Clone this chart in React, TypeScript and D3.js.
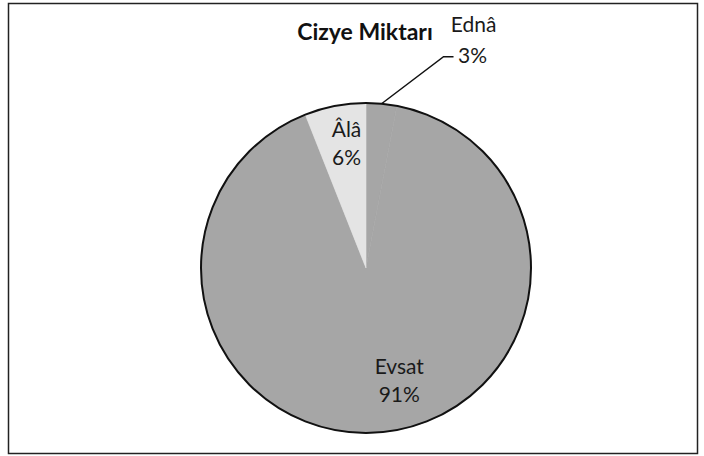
import * as d3 from "d3";

const categories = ["Ednâ", "Evsat", "Âlâ"];
const values = [3, 91, 6];
const percentLabels = ["3%", "91%", "6%"];
const sliceColors = ["#a6a6a6", "#a6a6a6", "#e4e4e4"];
const title = "Cizye Miktarı";

const width = 704;
const height = 456;
const cx = 366;
const cy = 268;
const radius = 165;
const font = "Lato, 'Open Sans', sans-serif";

export default function App() {
  const data = categories.map((name, i) => ({name, value: values[i], label: percentLabels[i], color: sliceColors[i]}));

  const pie = d3.pie<any>()
    .sort(null)
    .value(d => d.value);
  const arcs = pie(data);

  const arc = d3.arc<any>().innerRadius(0).outerRadius(radius);
  const labelArc = d3.arc<any>().innerRadius(120).outerRadius(120);
  const edgeArc = d3.arc<any>().innerRadius(radius).outerRadius(radius);

  // Ednâ is labelled outside the pie with a leader line
  const small = arcs[0];
  const [ex, ey] = edgeArc.centroid(small);
  const elbow: [number, number] = [ex + 62, ey - 47];
  const lineEnd: [number, number] = [elbow[0] + 10, elbow[1]];

  return (
    <svg width={width} height={height} style={{position: "absolute", left: 0, top: 0}}>
      <rect x={8.5} y={3.5} width={689} height={450} fill="#fff" stroke="#222" strokeWidth={1.5}/>
      <text x={365} y={40} textAnchor="middle" fontFamily={font} fontWeight="bold" fontSize={23} fill="#111">
        {title}
      </text>
      <g transform={`translate(${cx},${cy})`}>
        {arcs.map((a, i) => (
          <path key={i} d={arc(a) || ""} fill={a.data.color} stroke={a.data.color} strokeWidth={0.6}/>
        ))}
        <circle r={radius} fill="none" stroke="#111" strokeWidth={2}/>
        {arcs.slice(1).map((a, i) => {
          const [lx, ly] = labelArc.centroid(a);
          const x = a.data.name === "Evsat" ? lx + 22 : lx + 3;
          return (
            <text key={i} textAnchor="middle" fontFamily={font} fontSize={21} fill="#1a1a1a">
              <tspan x={x} y={ly - 13}>{a.data.name}</tspan>
              <tspan x={x} y={ly + 15}>{a.data.label}</tspan>
            </text>
          );
        })}
        <polyline points={[[ex, ey], elbow, lineEnd].map(p => p.join(",")).join(" ")} fill="none" stroke="#111" strokeWidth={1.5}/>
        <text textAnchor="middle" fontFamily={font} fontSize={21} fill="#1a1a1a">
          <tspan x={lineEnd[0] + 20} y={lineEnd[1] - 25}>{small.data.name}</tspan>
          <tspan x={lineEnd[0] + 19} y={lineEnd[1] + 6}>{small.data.label}</tspan>
        </text>
      </g>
    </svg>
  );
}
